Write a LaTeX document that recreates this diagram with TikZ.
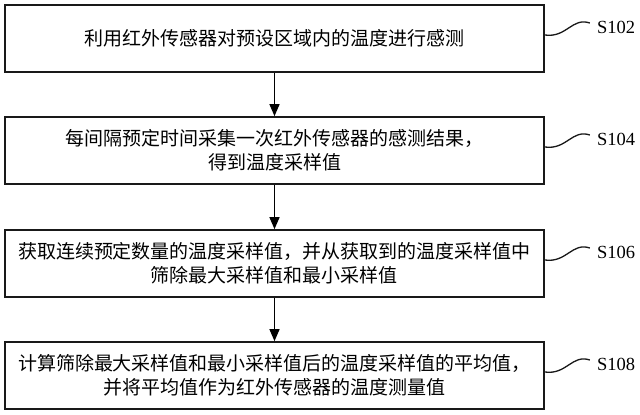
\documentclass[tikz,border=0pt]{standalone}
\usepackage{fontspec}
\setmainfont{Liberation Serif}
\newfontfamily\cjk{Noto Sans CJK SC}
\usetikzlibrary{arrows.meta}
\begin{document}
\begin{tikzpicture}[x=1pt,y=-1pt,
  stepbox/.style={draw=black!90, line width=1.7pt, minimum width=539pt, minimum height=67pt, inner sep=0pt, align=center, font=\cjk\fontsize{19}{24}\selectfont, text=black},
  flow/.style={-{Triangle[length=12pt,width=10pt]}, line width=1.4pt, draw=black},
  tagline/.style={line width=1.3pt, draw=black!90},
  lbl/.style={anchor=west, font=\fontsize{18.5}{20}\selectfont, text=black, inner sep=0pt}]
\useasboundingbox (0,0) rectangle (640,415);

\node[stepbox] (b1) at (274.5,38.5) {利用红外传感器对预设区域内的温度进行感测};
\node[stepbox] (b2) at (274.5,150.5) {每间隔预定时间采集一次红外传感器的感测结果，\\得到温度采样值};
\node[stepbox] (b3) at (274.5,263.5) {获取连续预定数量的温度采样值，并从获取到的温度采样值中\\筛除最大采样值和最小采样值};
\node[stepbox] (b4) at (274.5,375.5) {计算筛除最大采样值和最小采样值后的温度采样值的平均值，\\并将平均值作为红外传感器的温度测量值};

\draw[flow] (b1.south) -- (b2.north);
\draw[flow] (b2.south) -- (b3.north);
\draw[flow] (b3.south) -- (b4.north);

\foreach \i/\t in {1/S102,2/S104,3/S106,4/S108}{
  \path (b\i.east) ++(0,-3.5) coordinate (s\i);
  \path (b\i.east) ++(45,-15.5) coordinate (t\i);
  \path (b\i.east) ++(52,-11.5) coordinate (p\i);
  \draw[tagline] (s\i) .. controls +(22,3) and +(-18,-6) .. (t\i);
  \node[lbl] (l\i) at (p\i) {\t};
}
\end{tikzpicture}
\end{document}
